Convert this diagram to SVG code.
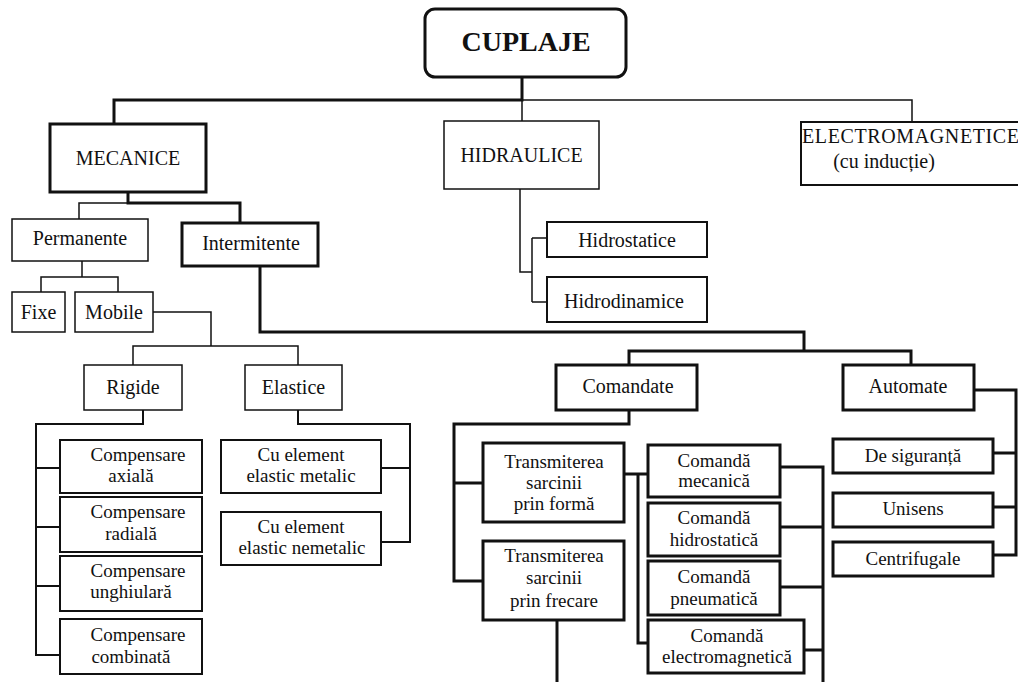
<svg xmlns="http://www.w3.org/2000/svg" width="1018" height="682" viewBox="0 0 1018 682">
<style>
text{font-family:"Liberation Serif","Times New Roman",serif;fill:#111;text-anchor:middle}
.f20{font-size:20px}
.f19{font-size:19px}
.box{fill:#fff;stroke:#111}
.thick{stroke-width:3}
.med{stroke-width:2}
.thin{stroke-width:1.5}
#connectors path{fill:none;stroke:#111}
</style>
<g id="connectors">
<path class="thick" d="M522 77V100H114V125"/>
<path class="thin" d="M522 100H912V122M522 100V121"/>
<path class="thick" d="M128 192V203H240V223"/>
<path class="thin" d="M128 203H79V219"/>
<path class="thin" d="M82 261V277H41V292M82 277H118V292"/>
<path class="thin" d="M153 312H211V346M133 365V346H298V365"/>
<path class="med" d="M143 410V424H36V655H60M36 468H60M36 527H60M36 586H60"/>
<path class="med" d="M298 410V424H410V542H381M410 468H381"/>
<path class="thin" d="M520 189V272H532M532 238V302M532 238H547M532 302H547"/>
<path class="thick" d="M260 266V332H804V351M629 365V351H911V365"/>
<path class="thick" d="M629 410V424H454V581H483M454 483H483"/>
<path class="thick" d="M624 474H648M638 474V643H648"/>
<path class="thick" d="M557 620V682"/>
<path class="thick" d="M780 467H823V682M780 527H823M780 587H823M804 650H823"/>
<path class="thick" d="M974 390H1016V555H993M993 453H1016M993 507H1016"/>
</g>
<g id="n-cuplaje"><rect class="box thick" x="425" y="9" width="201" height="68" rx="10"/><text x="526" y="51" style="font-size:28px;font-weight:bold">CUPLAJE</text></g>
<g id="n-mecanice"><rect class="box thick" x="50" y="124" width="156" height="68"/><text class="f20" x="128" y="165">MECANICE</text></g>
<g id="n-hidraulice"><rect class="box thin" x="444" y="121" width="155" height="68"/><text class="f20" x="521.5" y="162">HIDRAULICE</text></g>
<g id="n-electro"><rect class="box med" x="801" y="122" width="230" height="63"/><text class="f20" x="802" y="143" style="text-anchor:start" textLength="217">ELECTROMAGNETICE</text><text class="f20" x="884" y="168">(cu inducție)</text></g>
<g id="n-permanente"><rect class="box thin" x="12" y="219" width="136" height="42"/><text class="f20" x="80" y="245">Permanente</text></g>
<g id="n-intermitente"><rect class="box thick" x="182" y="223" width="136" height="43"/><text class="f20" x="251" y="250">Intermitente</text></g>
<g id="n-fixe"><rect class="box thin" x="12" y="292" width="53" height="40"/><text class="f20" x="38.5" y="319">Fixe</text></g>
<g id="n-mobile"><rect class="box thin" x="75" y="292" width="78" height="40"/><text class="f20" x="114" y="319">Mobile</text></g>
<g id="n-rigide"><rect class="box thin" x="84" y="365" width="98" height="45"/><text class="f20" x="133" y="394">Rigide</text></g>
<g id="n-elastice"><rect class="box thin" x="245" y="365" width="97" height="45"/><text class="f20" x="293.5" y="394">Elastice</text></g>
<g id="n-comp-axiala"><rect class="box med" x="60" y="440" width="142" height="53"/><text class="f19" x="138" y="461">Compensare</text><text class="f19" x="131" y="482">axială</text></g>
<g id="n-comp-radiala"><rect class="box med" x="60" y="497" width="142" height="55"/><text class="f19" x="138" y="518">Compensare</text><text class="f19" x="131" y="540">radială</text></g>
<g id="n-comp-unghiulara"><rect class="box med" x="60" y="556" width="142" height="55"/><text class="f19" x="138" y="577">Compensare</text><text class="f19" x="131" y="598">unghiulară</text></g>
<g id="n-comp-combinata"><rect class="box med" x="60" y="619" width="142" height="55"/><text class="f19" x="138" y="641">Compensare</text><text class="f19" x="131" y="663">combinată</text></g>
<g id="n-cu-metalic"><rect class="box med" x="221" y="440" width="160" height="53"/><text class="f19" x="301" y="461">Cu element</text><text class="f19" x="301" y="482">elastic metalic</text></g>
<g id="n-cu-nemetalic"><rect class="box med" x="221" y="512" width="160" height="53"/><text class="f19" x="301" y="533">Cu element</text><text class="f19" x="302" y="554">elastic nemetalic</text></g>
<g id="n-hidrostatice"><rect class="box med" x="547" y="222" width="160" height="35"/><text class="f20" x="627" y="247">Hidrostatice</text></g>
<g id="n-hidrodinamice"><rect class="box med" x="547" y="277" width="160" height="45"/><text class="f20" x="624" y="308">Hidrodinamice</text></g>
<g id="n-comandate"><rect class="box thick" x="556" y="365" width="141" height="45"/><text class="f20" x="628" y="393">Comandate</text></g>
<g id="n-automate"><rect class="box thick" x="843" y="365" width="131" height="45"/><text class="f20" x="908" y="393">Automate</text></g>
<g id="n-forma"><rect class="box thick" x="483" y="443" width="141" height="79"/><text class="f19" x="554" y="468">Transmiterea</text><text class="f19" x="554" y="489">sarcinii</text><text class="f19" x="554" y="510">prin formă</text></g>
<g id="n-frecare"><rect class="box thick" x="483" y="541" width="141" height="79"/><text class="f19" x="554" y="562">Transmiterea</text><text class="f19" x="554" y="584">sarcinii</text><text class="f19" x="554" y="607">prin frecare</text></g>
<g id="n-cmd-mecanica"><rect class="box thick" x="648" y="445" width="132" height="52"/><text class="f19" x="714" y="467">Comandă</text><text class="f19" x="714" y="487">mecanică</text></g>
<g id="n-cmd-hidrostatica"><rect class="box thick" x="648" y="503" width="132" height="53"/><text class="f19" x="714" y="524">Comandă</text><text class="f19" x="714" y="546">hidrostatică</text></g>
<g id="n-cmd-pneumatica"><rect class="box thick" x="648" y="561" width="132" height="54"/><text class="f19" x="714" y="583">Comandă</text><text class="f19" x="714" y="605">pneumatică</text></g>
<g id="n-cmd-electro"><rect class="box thick" x="648" y="620" width="156" height="53"/><text class="f19" x="727" y="642">Comandă</text><text class="f19" x="727" y="663">electromagnetică</text></g>
<g id="n-siguranta"><rect class="box thick" x="833" y="439" width="160" height="34"/><text class="f19" x="913" y="462">De siguranță</text></g>
<g id="n-unisens"><rect class="box thick" x="833" y="493" width="160" height="34"/><text class="f19" x="913" y="515">Unisens</text></g>
<g id="n-centrifugale"><rect class="box thick" x="833" y="542" width="160" height="34"/><text class="f19" x="913" y="565">Centrifugale</text></g>
</svg>
